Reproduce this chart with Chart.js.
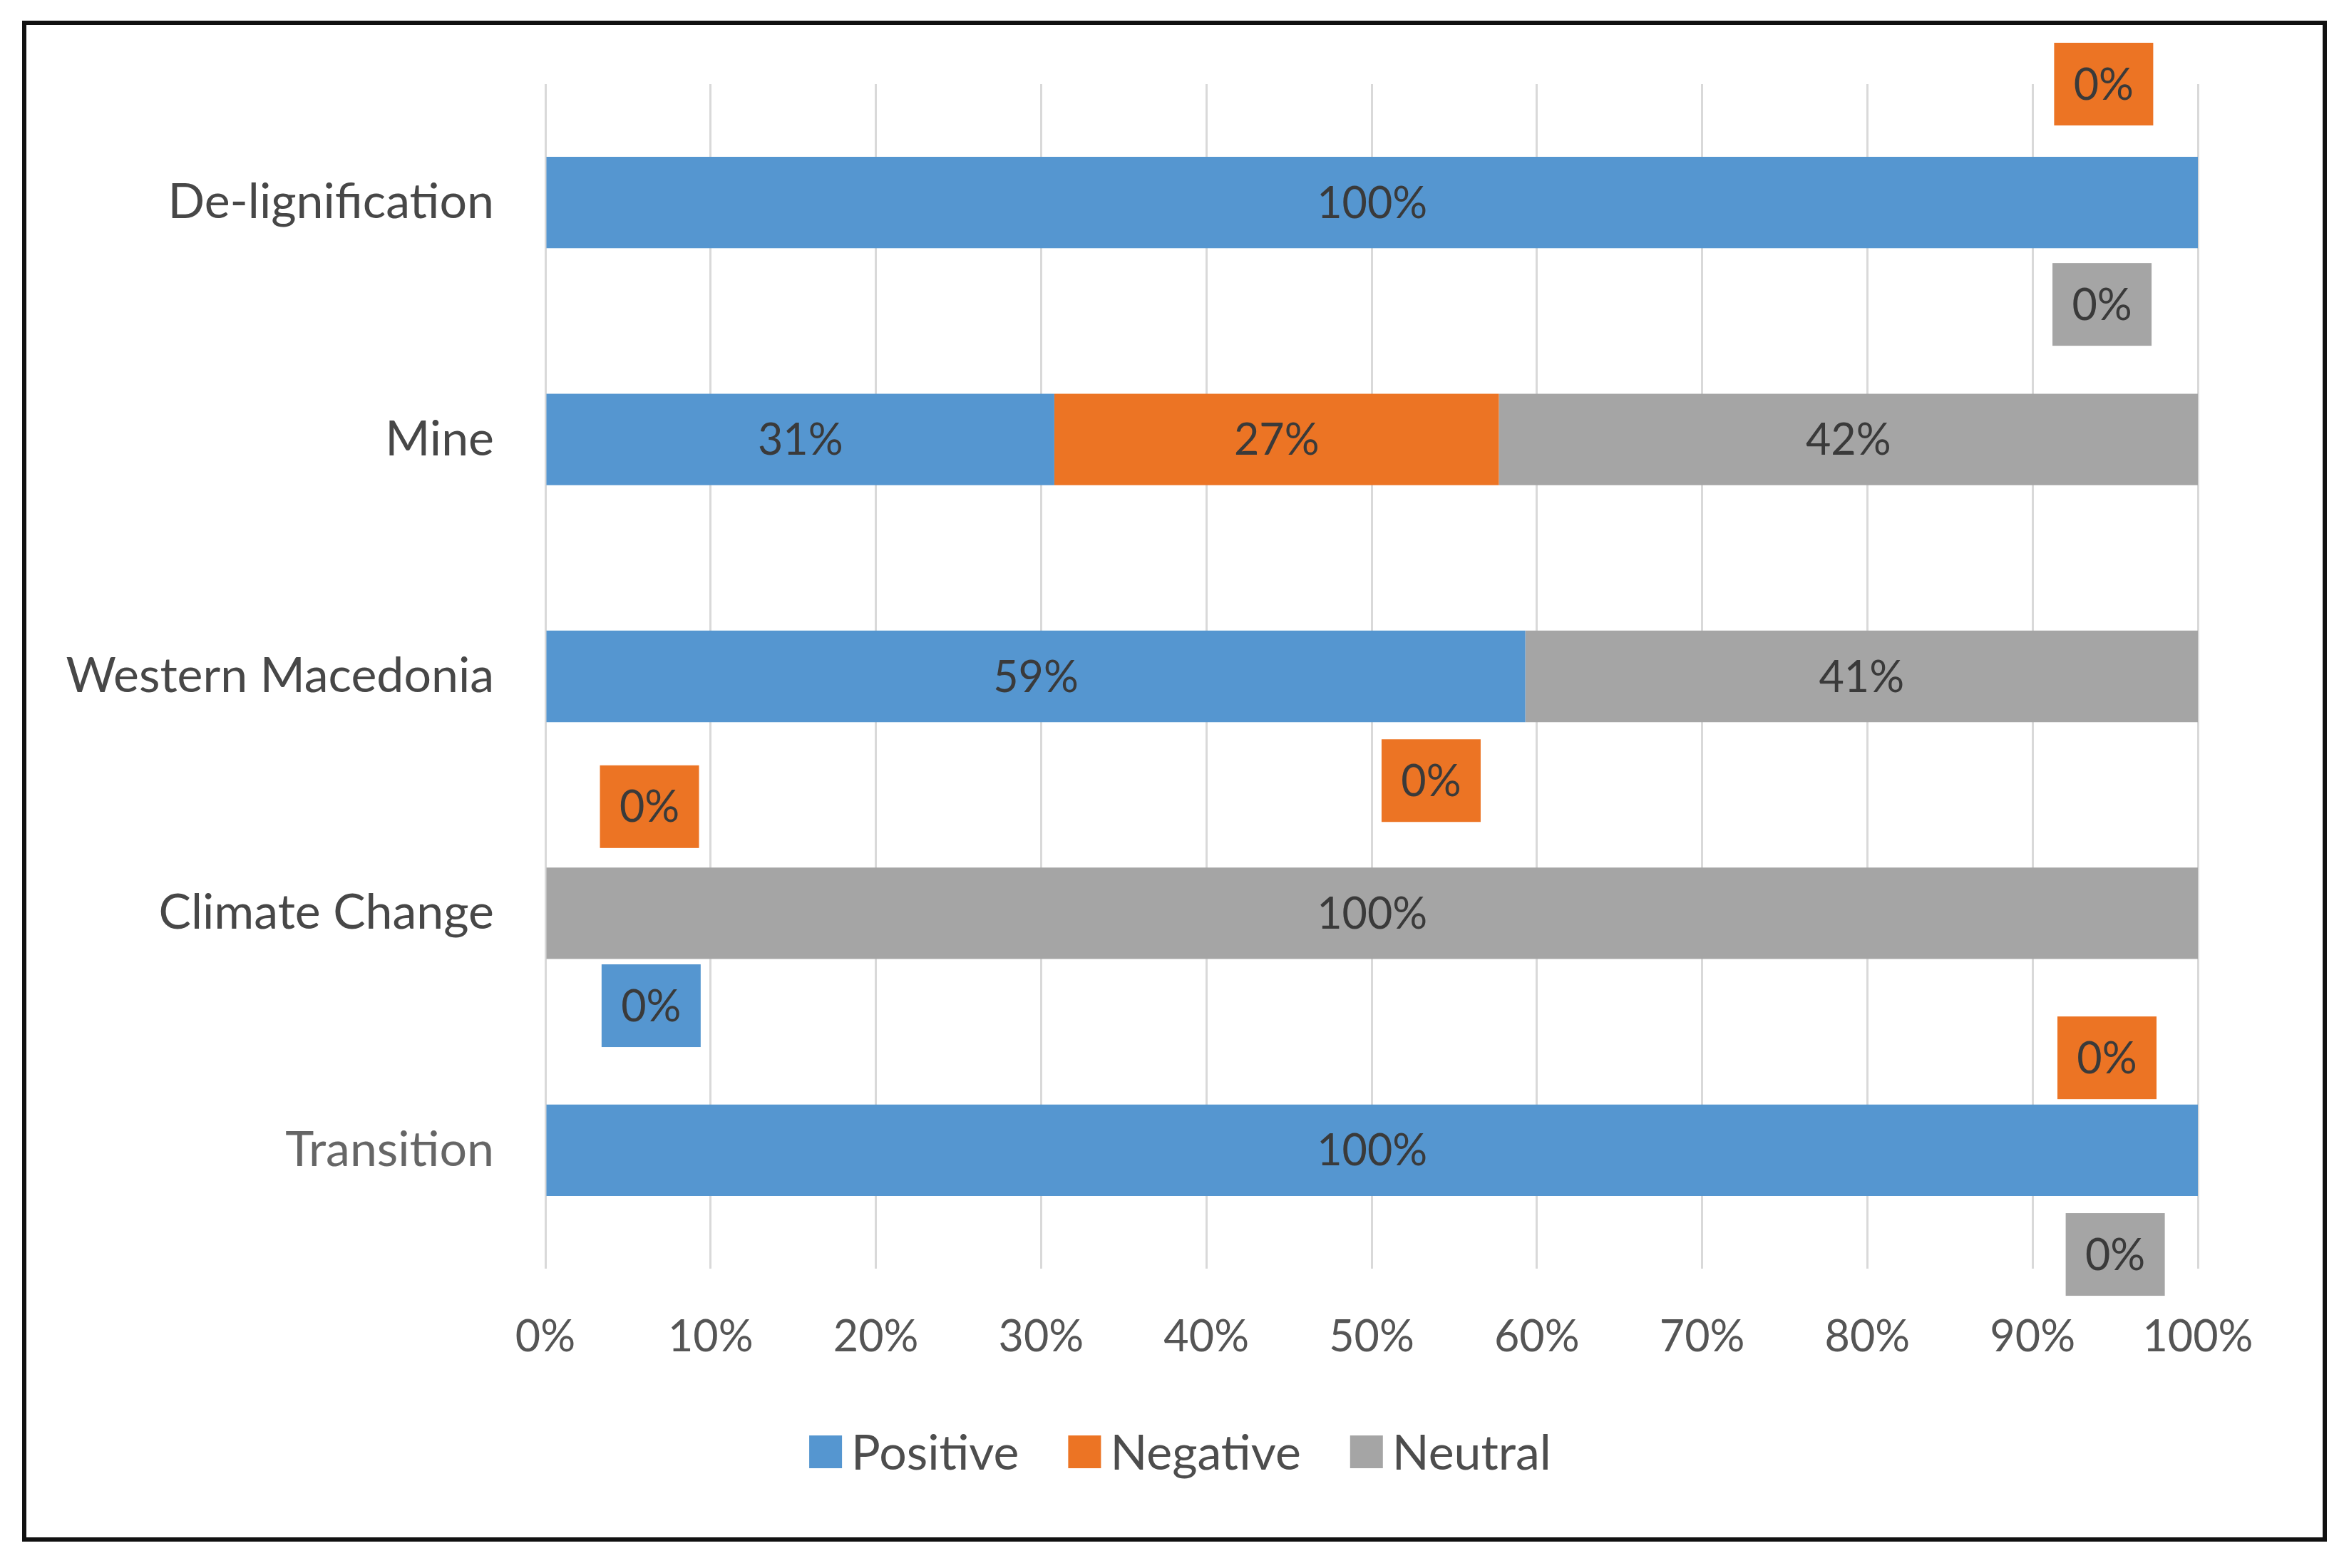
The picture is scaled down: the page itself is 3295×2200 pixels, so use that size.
<!DOCTYPE html>
<html>
<head>
<meta charset="utf-8">
<title>Attitude by topic</title>
<script src="https://cdn.jsdelivr.net/npm/chart.js@4.4.0/dist/chart.umd.min.js"></script>
<style>
  body { margin: 0; background: #fff; }
  #wrap { position: relative; width: 3295px; height: 2200px; }
  #frame {
    position: absolute; left: 31px; top: 29px; width: 3233px; height: 2134px;
    border: 6px solid #111; box-sizing: border-box; pointer-events: none;
  }
</style>
</head>
<body>
<div id="wrap">
  <canvas id="chart" width="3295" height="2200"></canvas>
  <div id="frame"></div>
</div>
<script>
const categories = ['De-lignification', 'Mine', 'Western Macedonia', 'Climate Change', 'Transition'];
const positive = [100, 30.8, 59.3, 0, 100];
const negative = [0, 26.9, 0, 0, 0];
const neutral = [0, 42.3, 40.7, 100, 0];
const xTicks = [0, 10, 20, 30, 40, 50, 60, 70, 80, 90, 100];

const FONT = 'Lato';
const colors = { positive: '#5596d0', negative: '#ec7424', neutral: '#a5a5a5' };

// where Excel left the dragged "0%" labels: x in axis %, dy in fractions of a category row
const zeroSpots = {
  0: { 3: { x: 6.4, dy: 0.39 } },
  1: { 0: { x: 94.3, dy: -0.5 }, 2: { x: 53.6, dy: 0.44 }, 3: { x: 6.3, dy: -0.45 }, 4: { x: 94.5, dy: -0.39 } },
  2: { 0: { x: 94.2, dy: 0.43 }, 4: { x: 95.0, dy: 0.44 } }
};

const fmt = v => Math.round(v) + '%';

const barLabels = {
  id: 'barLabels',
  afterDatasetsDraw(chart) {
    const ctx = chart.ctx;
    const xs = chart.scales.x, ys = chart.scales.y;
    const rowH = ys.getPixelForValue(1) - ys.getPixelForValue(0);
    ctx.save();
    ctx.font = '61px ' + FONT;
    ctx.textAlign = 'center';
    ctx.textBaseline = 'middle';
    chart.data.datasets.forEach((ds, di) => {
      const meta = chart.getDatasetMeta(di);
      meta.data.forEach((el, i) => {
        const v = ds.data[i];
        if (v > 0) {
          ctx.fillStyle = '#3a3a3a';
          ctx.fillText(fmt(v), (el.x + el.base) / 2, el.y + 2);
          return;
        }
        const spot = zeroSpots[di] && zeroSpots[di][i];
        if (!spot) return;
        const cx = xs.getPixelForValue(spot.x);
        const cy = ys.getPixelForValue(i) + spot.dy * rowH;
        const w = 139, h = 116;
        ctx.fillStyle = ds.backgroundColor;
        ctx.fillRect(cx - w / 2, cy - h / 2, w, h);
        ctx.fillStyle = '#3a3a3a';
        ctx.fillText(fmt(v), cx, cy + 2);
      });
    });
    ctx.restore();
  }
};

// Excel-style legend: tight swatch/text gap, centred on the whole frame
const excelLegend = {
  id: 'excelLegend',
  afterDraw(chart) {
    const ctx = chart.ctx;
    const box = 46, gap = 13, itemGap = 69;
    const cy = chart.scales.x.bottom + 92;
    ctx.save();
    ctx.font = '68px ' + FONT;
    ctx.textBaseline = 'middle';
    const items = chart.data.datasets.map(ds => ({ ds, w: ctx.measureText(ds.label).width }));
    const total = items.reduce((s, it) => s + box + gap + it.w, 0) + itemGap * (items.length - 1);
    let x = chart.width / 2 + 8 - total / 2;
    items.forEach(it => {
      ctx.fillStyle = it.ds.backgroundColor;
      ctx.fillRect(x, cy - box / 2 - 3, box, box);
      ctx.fillStyle = '#4d4d4d';
      ctx.textAlign = 'left';
      ctx.fillText(it.ds.label, x + box + gap, cy);
      x += box + gap + it.w + itemGap;
    });
    ctx.restore();
  }
};

new Chart(document.getElementById('chart'), {
  type: 'bar',
  data: {
    labels: categories,
    datasets: [
      { label: 'Positive', data: positive, backgroundColor: colors.positive, borderWidth: 0 },
      { label: 'Negative', data: negative, backgroundColor: colors.negative, borderWidth: 0 },
      { label: 'Neutral', data: neutral, backgroundColor: colors.neutral, borderWidth: 0 }
    ]
  },
  options: {
    indexAxis: 'y',
    responsive: false,
    devicePixelRatio: 1,
    animation: false,
    barPercentage: 0.386,
    categoryPercentage: 1,
    layout: { padding: { top: 118, right: 212, bottom: 252, left: 0 } },
    scales: {
      x: {
        stacked: true,
        min: 0,
        max: 100,
        afterBuildTicks: s => { s.ticks = xTicks.map(v => ({ value: v })); },
        afterFit: s => { s.height = 168; },
        ticks: {
          callback: v => v + '%',
          font: { family: FONT, size: 61 },
          color: '#555555',
          padding: 60
        },
        grid: { color: '#d9d9d9', lineWidth: 3, drawTicks: false },
        border: { display: false }
      },
      y: {
        stacked: true,
        afterFit: s => { s.width = 765; },
        ticks: {
          font: { family: FONT, size: 68 },
          color: ['#474747', '#474747', '#474747', '#474747', '#666666'],
          padding: 72
        },
        grid: { display: false, drawTicks: false },
        border: { display: false }
      }
    },
    plugins: {
      legend: { display: false },
      tooltip: { enabled: false }
    }
  },
  plugins: [barLabels, excelLegend]
});
</script>
</body>
</html>
